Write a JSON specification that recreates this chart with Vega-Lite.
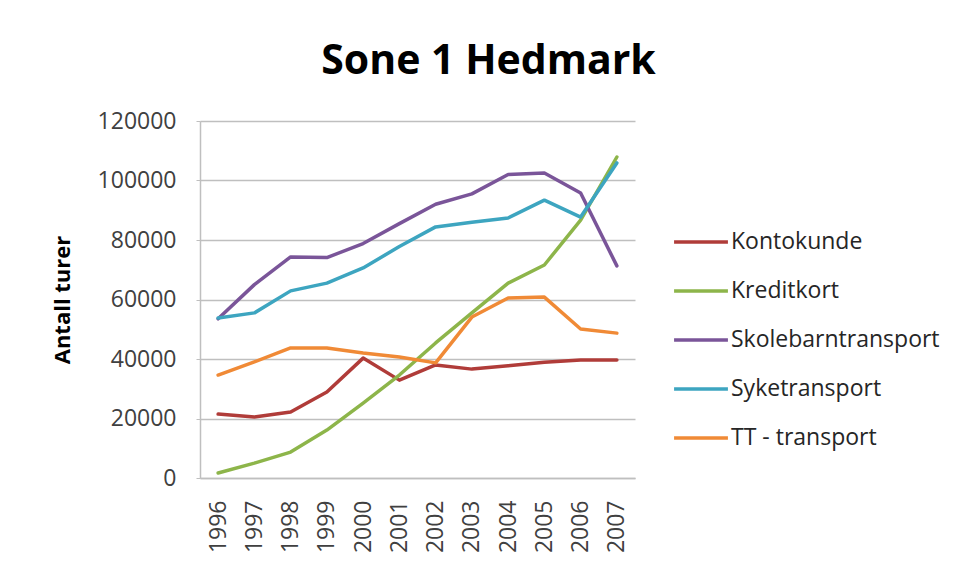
{
  "$schema": "https://vega.github.io/schema/vega-lite/v6.json",
  "width": 435,
  "height": 357,
  "autosize": "none",
  "padding": {"left": 200, "top": 121, "right": 324, "bottom": 100},
  "background": "white",
  "title": {
    "text": "Sone 1 Hedmark",
    "font": "Open Sans",
    "fontSize": 41,
    "fontWeight": "bold",
    "color": "#000000",
    "anchor": "middle",
    "dx": 71,
    "offset": 27
  },
  "data": {
    "values": [
      {"year": "1996", "series": "Kontokunde", "value": 21500},
      {"year": "1997", "series": "Kontokunde", "value": 20500},
      {"year": "1998", "series": "Kontokunde", "value": 22200},
      {"year": "1999", "series": "Kontokunde", "value": 28900},
      {"year": "2000", "series": "Kontokunde", "value": 40300},
      {"year": "2001", "series": "Kontokunde", "value": 32900},
      {"year": "2002", "series": "Kontokunde", "value": 38000},
      {"year": "2003", "series": "Kontokunde", "value": 36600},
      {"year": "2004", "series": "Kontokunde", "value": 37700},
      {"year": "2005", "series": "Kontokunde", "value": 38900},
      {"year": "2006", "series": "Kontokunde", "value": 39700},
      {"year": "2007", "series": "Kontokunde", "value": 39700},
      {"year": "1996", "series": "Kreditkort", "value": 1700},
      {"year": "1997", "series": "Kreditkort", "value": 5000},
      {"year": "1998", "series": "Kreditkort", "value": 8700},
      {"year": "1999", "series": "Kreditkort", "value": 16100},
      {"year": "2000", "series": "Kreditkort", "value": 25200},
      {"year": "2001", "series": "Kreditkort", "value": 34600},
      {"year": "2002", "series": "Kreditkort", "value": 45400},
      {"year": "2003", "series": "Kreditkort", "value": 55500},
      {"year": "2004", "series": "Kreditkort", "value": 65500},
      {"year": "2005", "series": "Kreditkort", "value": 71600},
      {"year": "2006", "series": "Kreditkort", "value": 86700},
      {"year": "2007", "series": "Kreditkort", "value": 107900},
      {"year": "1996", "series": "Skolebarntransport", "value": 53500},
      {"year": "1997", "series": "Skolebarntransport", "value": 65000},
      {"year": "1998", "series": "Skolebarntransport", "value": 74300},
      {"year": "1999", "series": "Skolebarntransport", "value": 74100},
      {"year": "2000", "series": "Skolebarntransport", "value": 78800},
      {"year": "2001", "series": "Skolebarntransport", "value": 85500},
      {"year": "2002", "series": "Skolebarntransport", "value": 92000},
      {"year": "2003", "series": "Skolebarntransport", "value": 95500},
      {"year": "2004", "series": "Skolebarntransport", "value": 102000},
      {"year": "2005", "series": "Skolebarntransport", "value": 102500},
      {"year": "2006", "series": "Skolebarntransport", "value": 95800},
      {"year": "2007", "series": "Skolebarntransport", "value": 71300},
      {"year": "1996", "series": "Syketransport", "value": 53800},
      {"year": "1997", "series": "Syketransport", "value": 55500},
      {"year": "1998", "series": "Syketransport", "value": 62900},
      {"year": "1999", "series": "Syketransport", "value": 65500},
      {"year": "2000", "series": "Syketransport", "value": 70600},
      {"year": "2001", "series": "Syketransport", "value": 77800},
      {"year": "2002", "series": "Syketransport", "value": 84400},
      {"year": "2003", "series": "Syketransport", "value": 86000},
      {"year": "2004", "series": "Syketransport", "value": 87400},
      {"year": "2005", "series": "Syketransport", "value": 93400},
      {"year": "2006", "series": "Syketransport", "value": 87700},
      {"year": "2007", "series": "Syketransport", "value": 105900},
      {"year": "1996", "series": "TT - transport", "value": 34600},
      {"year": "1997", "series": "TT - transport", "value": 39000},
      {"year": "1998", "series": "TT - transport", "value": 43700},
      {"year": "1999", "series": "TT - transport", "value": 43700},
      {"year": "2000", "series": "TT - transport", "value": 42000},
      {"year": "2001", "series": "TT - transport", "value": 40700},
      {"year": "2002", "series": "TT - transport", "value": 38700},
      {"year": "2003", "series": "TT - transport", "value": 54100},
      {"year": "2004", "series": "TT - transport", "value": 60500},
      {"year": "2005", "series": "TT - transport", "value": 60800},
      {"year": "2006", "series": "TT - transport", "value": 50100},
      {"year": "2007", "series": "TT - transport", "value": 48700}
    ]
  },
  "mark": {"type": "line", "strokeWidth": 3.5, "strokeCap": "round", "strokeJoin": "round"},
  "encoding": {
    "x": {
      "field": "year",
      "type": "ordinal",
      "scale": {"padding": 0.5},
      "axis": {
        "title": null,
        "labelAngle": -90,
        "labelFont": "Open Sans",
        "labelFontSize": 23,
        "labelColor": "#404040",
        "labelPadding": 22,
        "ticks": false,
        "domainColor": "#BFBFBF",
        "domainWidth": 1.5,
        "grid": false
      }
    },
    "y": {
      "field": "value",
      "type": "quantitative",
      "scale": {"domain": [0, 120000], "nice": false},
      "axis": {
        "title": "Antall turer",
        "titleFont": "Open Sans",
        "titleFontSize": 22,
        "titleFontWeight": "bold",
        "titleColor": "#000000",
        "titlePadding": 23,
        "values": [0, 20000, 40000, 60000, 80000, 100000, 120000],
        "format": "d",
        "labelFont": "Open Sans",
        "labelFontSize": 23,
        "labelColor": "#404040",
        "labelPadding": 20,
        "tickSize": 4,
        "tickColor": "#BFBFBF",
        "domainColor": "#BFBFBF",
        "domainWidth": 1.5,
        "gridColor": "#BFBFBF",
        "gridWidth": 1.5
      }
    },
    "color": {
      "field": "series",
      "type": "nominal",
      "scale": {
        "domain": ["Kontokunde", "Kreditkort", "Skolebarntransport", "Syketransport", "TT - transport"],
        "range": ["#B03C39", "#8DB54A", "#7A5599", "#3DA5C0", "#F08A36"]
      },
      "legend": {
        "title": null,
        "orient": "none",
        "legendX": 472,
        "legendY": 92,
        "symbolType": "stroke",
        "symbolSize": 2900,
        "symbolStrokeWidth": 3.5,
        "labelFont": "Open Sans",
        "labelFontSize": 23,
        "labelColor": "#262626",
        "labelOffset": 1,
        "rowPadding": 8,
        "labelLimit": 400
      }
    }
  },
  "config": {
    "view": {"stroke": null}
  }
}
